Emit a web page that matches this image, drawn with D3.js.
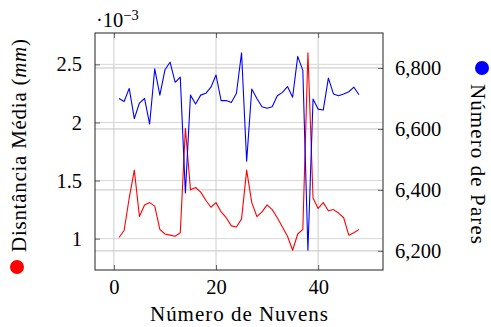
<!DOCTYPE html>
<html>
<head>
<meta charset="utf-8">
<script src="https://cdn.jsdelivr.net/npm/d3@7"></script>
<style>
  body { margin: 0; background: #fff; }
  text { font-family: "Liberation Serif", "DejaVu Serif", serif; fill: #000; }
</style>
</head>
<body>
<div id="chart"></div>
<script>
// number of clouds (x)
var nuvens = d3.range(1, 49);
// mean distance, in units of 10^-3 mm (left axis, red)
var distancia = [1.01, 1.07, 1.35, 1.59, 1.19, 1.29, 1.31, 1.28, 1.08, 1.04,
                 1.03, 1.02, 1.05, 1.95, 1.42, 1.44, 1.40, 1.33, 1.27, 1.31,
                 1.23, 1.18, 1.11, 1.10, 1.17, 1.59, 1.31, 1.19, 1.23, 1.29,
                 1.25, 1.18, 1.10, 1.02, 0.90, 1.04, 1.08, 2.60, 1.35, 1.26,
                 1.31, 1.24, 1.25, 1.22, 1.18, 1.03, 1.05, 1.08];
// number of pairs (right axis, blue)
var pares = [6700, 6690, 6733, 6634, 6685, 6700, 6616, 6797, 6711, 6794,
             6819, 6753, 6770, 6390, 6711, 6682, 6711, 6717, 6737, 6777,
             6693, 6693, 6687, 6717, 6850, 6494, 6731, 6700, 6673, 6668,
             6673, 6709, 6720, 6739, 6704, 6838, 6792, 6202, 6698, 6665,
             6662, 6767, 6715, 6709, 6715, 6722, 6737, 6712];
var xTicks = [0, 20, 40];
var leftTicks = [1, 1.5, 2, 2.5];
var rightTicks = [6200, 6400, 6600, 6800];

var W = 491, H = 327;
var L = 95, R = 383, T = 33, B = 270;

// pgfplots style: enlarge limits by 10% of the data range
function enlarge(ext) {
  var d = (ext[1] - ext[0]) * 0.1;
  return [ext[0] - d, ext[1] + d];
}

var x = d3.scaleLinear().domain(enlarge(d3.extent(nuvens))).range([L, R]);
var yL = d3.scaleLinear().domain(enlarge(d3.extent(distancia))).range([B, T]);
var yR = d3.scaleLinear().domain(enlarge(d3.extent(pares))).range([B, T]);

var svg = d3.select("#chart").append("svg").attr("width", W).attr("height", H);

var gridColor = "#c6c6c6";
// grid lines
svg.append("g").selectAll("line").data(xTicks).join("line")
    .attr("x1", function (d) { return x(d); }).attr("x2", function (d) { return x(d); })
    .attr("y1", T).attr("y2", B)
    .attr("stroke", gridColor).attr("stroke-width", 0.9);
svg.append("g").selectAll("line").data(leftTicks).join("line")
    .attr("x1", L).attr("x2", R)
    .attr("y1", function (d) { return yL(d); }).attr("y2", function (d) { return yL(d); })
    .attr("stroke", "#d4d4d4").attr("stroke-width", 0.9);
svg.append("g").selectAll("line").data(rightTicks).join("line")
    .attr("x1", L).attr("x2", R)
    .attr("y1", function (d) { return yR(d); }).attr("y2", function (d) { return yR(d); })
    .attr("stroke", "#bdbdbd").attr("stroke-width", 0.9);

// axes (ticks inside, labels outside)
var tickColor = "#555";
var ax = svg.append("g").attr("transform", "translate(0," + B + ")")
    .call(d3.axisBottom(x).tickValues(xTicks).tickSize(-5).tickPadding(9));
var axTop = svg.append("g").attr("transform", "translate(0," + T + ")")
    .call(d3.axisTop(x).tickValues(xTicks).tickSize(-5).tickFormat(""));
var axL = svg.append("g").attr("transform", "translate(" + L + ",0)")
    .call(d3.axisLeft(yL).tickValues(leftTicks).tickSize(-5).tickPadding(13)
      .tickFormat(d3.format("")));
var axR = svg.append("g").attr("transform", "translate(" + R + ",0)")
    .call(d3.axisRight(yR).tickValues(rightTicks).tickSize(-5).tickPadding(12)
      .tickFormat(d3.format(",")));

[ax, axTop, axL, axR].forEach(function (g) {
  g.select(".domain").remove();
  g.selectAll(".tick line").attr("stroke", tickColor).attr("stroke-width", 0.9);
  g.selectAll(".tick text").attr("font-family", "Liberation Serif")
    .attr("font-size", 20.5).attr("fill", "#000");
});
ax.selectAll(".tick text").attr("dy", "0.71em");

// lines
var lineL = d3.line().x(function (d, i) { return x(nuvens[i]); }).y(function (d) { return yL(d); });
var lineR = d3.line().x(function (d, i) { return x(nuvens[i]); }).y(function (d) { return yR(d); });
svg.append("path").datum(distancia).attr("d", lineL)
    .attr("fill", "none").attr("stroke", "#ff0000").attr("stroke-width", 1.1)
    .attr("stroke-linejoin", "round");
svg.append("path").datum(pares).attr("d", lineR)
    .attr("fill", "none").attr("stroke", "#0000ff").attr("stroke-width", 1.1)
    .attr("stroke-linejoin", "round");

// frame
svg.append("rect").attr("x", L).attr("y", T).attr("width", R - L).attr("height", B - T)
    .attr("fill", "none").attr("stroke", "#222").attr("stroke-width", 1);

// exponent label
var expo = svg.append("text").attr("x", 96).attr("y", 27).attr("font-size", 20.5);
expo.append("tspan").text("\u00b710");
expo.append("tspan").attr("dy", -7).attr("font-size", 14.5).text("\u22123");

// x axis title
svg.append("text").attr("x", (L + R) / 2).attr("y", 321).attr("text-anchor", "middle")
    .attr("font-size", 21).attr("textLength", 178).attr("lengthAdjust", "spacing")
    .text("Número de Nuvens");

// left title with red marker
svg.append("circle").attr("cx", 17).attr("cy", 267).attr("r", 7).attr("fill", "#ff0000");
var tl = svg.append("text").attr("transform", "translate(26,252) rotate(-90)")
    .attr("font-size", 21).attr("textLength", 213).attr("lengthAdjust", "spacing");
tl.append("tspan").text("Disntância Média (");
tl.append("tspan").attr("font-style", "italic").text("mm");
tl.append("tspan").text(")");

// right title with blue marker
svg.append("circle").attr("cx", 482).attr("cy", 68).attr("r", 7).attr("fill", "#0000ff");
svg.append("text").attr("transform", "translate(471,84) rotate(90)")
    .attr("font-size", 21).attr("textLength", 160).attr("lengthAdjust", "spacing")
    .text("Número de Pares");
</script>
</body>
</html>
